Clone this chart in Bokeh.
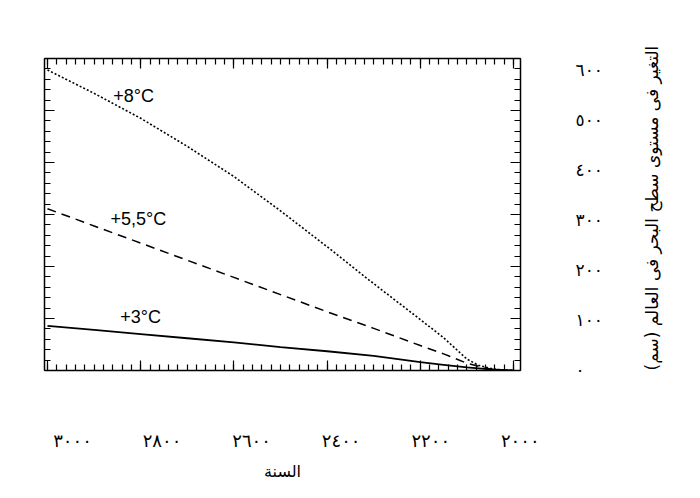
import math
from bokeh.plotting import figure
from bokeh.models import Range1d, LinearAxis, FixedTicker, ColumnDataSource
from bokeh.core.properties import value
from bokeh.embed import file_html
from bokeh.resources import INLINE

# ---- data ----
years = [3000, 2900, 2800, 2700, 2600, 2500, 2400, 2300, 2200, 2150, 2100, 2075, 2050, 2025, 2000]
rise_8c = [578, 533, 485, 431, 373, 307, 238, 167, 98, 63, 22, 10, 4, 1, 0]
rise_5_5c = [311, 278, 245, 212, 179, 146, 113, 81, 48, 32, 14, 8, 3, 1, 0]
rise_3c = [86, 78, 70, 62, 54, 45, 37, 28, 16, 11, 6, 4, 2, 1, 0]

x_ticks = [2000, 2200, 2400, 2600, 2800, 3000]
x_tick_labels = ["٢٠٠٠", "٢٢٠٠", "٢٤٠٠", "٢٦٠٠", "٢٨٠٠", "٣٠٠٠"]
x_minor = list(range(2000, 3001, 20))
y_ticks = [0, 100, 200, 300, 400, 500, 600]
y_tick_labels = ["٠", "١٠٠", "٢٠٠", "٣٠٠", "٤٠٠", "٥٠٠", "٦٠٠"]
y_minor = list(range(0, 601, 20))

x_title = "السنة"
y_title = "التغير فى مستوى سطح البحر فى العالم (سم)"

curve_labels = ["+8°C", "+5,5°C", "+3°C"]
label_years = [2815, 2805, 2800]
label_values = [527, 292, 102]

# ---- figure ----
p = figure(frame_width=476, frame_height=312,
           x_range=Range1d(3006.4, 1985), y_range=Range1d(0, 600),
           x_axis_type=None, y_axis_type=None,
           output_backend="svg", toolbar_location=None,
           min_border_left=44, min_border_top=58, min_border_right=10, min_border_bottom=10,
           background_fill_color="white", border_fill_color="white")
p.outline_line_color = None
p.xgrid.visible = False
p.ygrid.visible = False
p.extra_x_ranges = {"lab": Range1d(3062.5, 1999.5)}
p.extra_y_ranges = {"lab": Range1d(-2, 622)}

def tick_axis(ticks, minors, **kw):
    ax = LinearAxis(ticker=FixedTicker(ticks=ticks, minor_ticks=minors), **kw)
    ax.axis_line_color = "black"
    ax.axis_line_width = 1.5
    ax.major_tick_in = 10
    ax.major_tick_out = 0
    ax.minor_tick_in = 6
    ax.minor_tick_out = 0
    ax.major_tick_line_color = "black"
    ax.minor_tick_line_color = "black"
    ax.major_tick_line_width = 1.2
    ax.minor_tick_line_width = 1.2
    ax.major_label_text_font_size = "0px"
    ax.major_label_text_color = None
    ax.major_label_standoff = 0
    return ax

p.add_layout(tick_axis(x_ticks, x_minor), "below")
p.add_layout(tick_axis(x_ticks, x_minor), "above")
p.add_layout(tick_axis(y_ticks, y_minor), "left")
p.add_layout(tick_axis(y_ticks, y_minor), "right")

lab_x = LinearAxis(x_range_name="lab", ticker=FixedTicker(ticks=x_ticks))
lab_x.major_label_overrides = dict(zip(x_ticks, x_tick_labels))
lab_y = LinearAxis(y_range_name="lab", ticker=FixedTicker(ticks=y_ticks))
lab_y.major_label_overrides = dict(zip(y_ticks, y_tick_labels))
for ax in (lab_x, lab_y):
    ax.axis_line_color = None
    ax.major_tick_line_color = None
    ax.minor_tick_line_color = None
    ax.major_tick_in = 0
    ax.major_tick_out = 0
    ax.minor_tick_in = 0
    ax.minor_tick_out = 0
    ax.major_label_text_font = "DejaVu Sans"
    ax.major_label_text_color = "black"
    ax.axis_label_text_font = "DejaVu Sans"
    ax.axis_label_text_font_style = "normal"
    ax.axis_label_text_color = "black"

lab_x.major_label_text_font_size = "18px"
lab_x.major_label_standoff = 59
lab_x.axis_label = x_title
lab_x.axis_label_standoff = 8
lab_x.axis_label_text_font_size = "16px"
lab_y.major_label_text_font_size = "17px"
lab_y.major_label_standoff = 55
lab_y.axis_label = y_title
lab_y.axis_label_standoff = 46
lab_y.axis_label_text_font_size = "17px"
try:
    lab_y.axis_label_orientation = math.pi / 2
    lab_y.axis_label_align = "start"
except Exception:
    pass

p.add_layout(lab_x, "below")
p.add_layout(lab_y, "right")

# ---- curves ----
src = ColumnDataSource(dict(year=years, r8=rise_8c, r55=rise_5_5c, r3=rise_3c))
p.line("year", "r8", source=src, line_color="black", line_width=1.6, line_dash="2 2")
p.line("year", "r55", source=src, line_color="black", line_width=1.5, line_dash="9 6")
p.line("year", "r3", source=src, line_color="black", line_width=1.8)

lsrc = ColumnDataSource(dict(x=label_years, y=label_values, t=curve_labels))
p.text("x", "y", text="t", source=lsrc, text_align="center", text_baseline="middle",
       text_font=value("Liberation Sans"), text_font_size="18px", text_color="black")

open("out.html", "w").write(file_html(p, INLINE))
